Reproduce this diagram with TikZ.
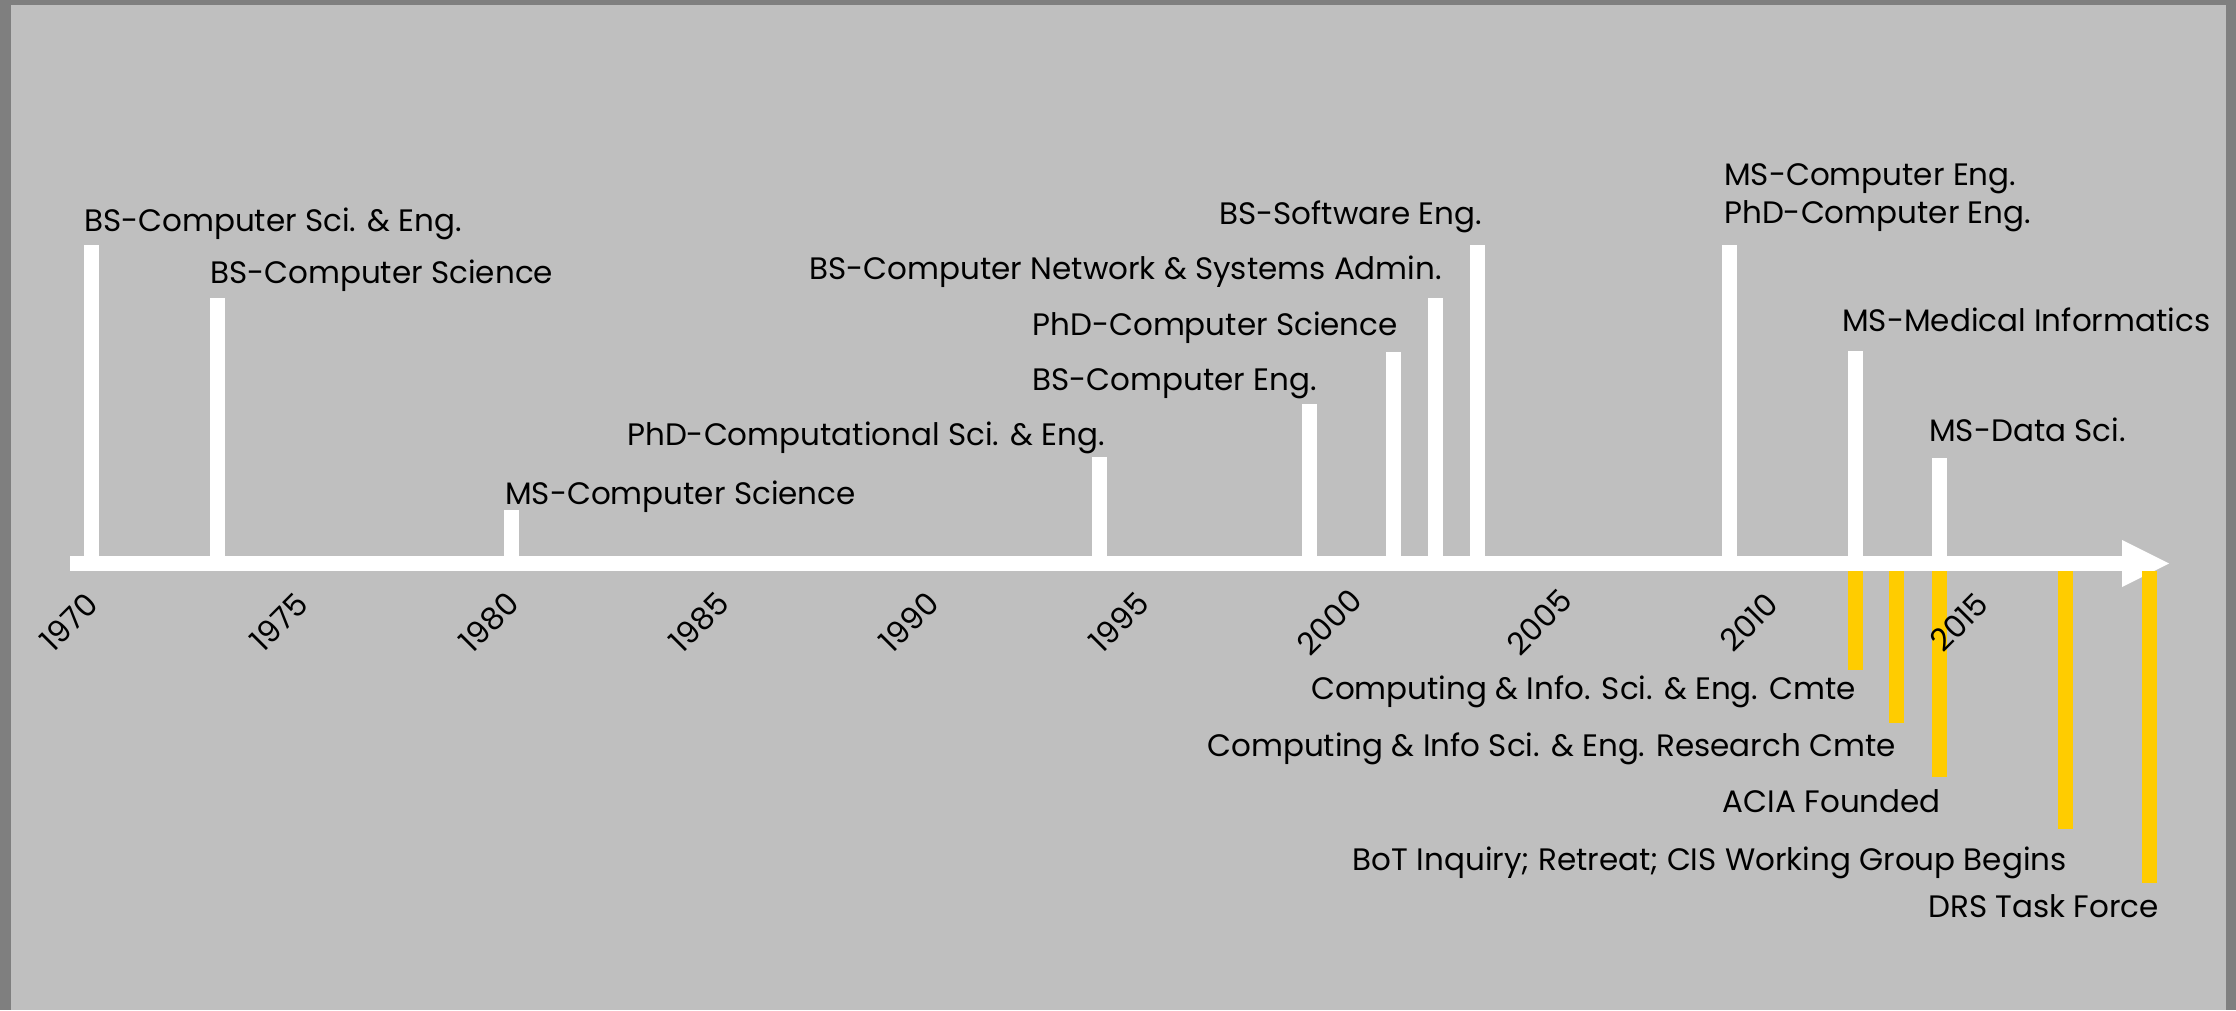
\documentclass[tikz,border=0pt]{standalone}
\usepackage{fontspec}
\setmainfont{Poppins}
\definecolor{framegray}{HTML}{7F7F7F}
\definecolor{bggray}{HTML}{BFBFBF}
\definecolor{gold}{HTML}{FFCC00}
\begin{document}
\begin{tikzpicture}[x=1pt,y=-1pt,
  lbl/.style={inner sep=0pt,font=\fontsize{31}{37}\selectfont,text=black},
  yearlbl/.style={lbl,rotate=45,anchor=center},
  wbar/.style={fill=white},
  ybar/.style={fill=gold}]
\useasboundingbox (0,0) rectangle (2236,1010);
\fill[framegray] (0,0) rectangle (2236,1010);
\fill[bggray] (11,5) rectangle (2226,1010);
% white bars (degrees)
\foreach \x/\t in {91/245,217/298,511/510,1099/457,1309/404,1393/352,1435/298,1477/245,1729/245,1855/351,1939/458}
  \fill[wbar] (\x-7.5,\t) rectangle (\x+7.5,563);
% axis with arrow
\coordinate (axs) at (70,563.5);
\coordinate (axe) at (2122,563.5);
\coordinate (tip) at (2169,563.5);
\fill[white] (70,556) rectangle (2122,571);
\fill[white] (2122,540) -- (tip) -- (2122,587) -- cycle;
% yellow bars (milestones)
\foreach \x/\b in {1855/670,1896.5/723,1939.5/777,2065.5/829,2149.5/883}
  \fill[ybar] (\x-7.5,571) rectangle (\x+7.5,\b);
% year labels
\foreach \x/\y in {91/1970,301/1975,511/1980,721/1985,931/1990,1141/1995,1351/2000,1561/2005,1771/2010,1981/2015}
  \node[yearlbl] (y\y) at (\x-22,622) {\y};
% degree labels
\node[lbl,anchor=base west] (d1) at (84,231) {BS-Computer Sci. \& Eng.};
\node[lbl,anchor=base west] (d2) at (210,283) {BS-Computer Science};
\node[lbl,anchor=base west] (d3) at (505,504) {MS-Computer Science};
\node[lbl,anchor=base east] (d4) at (1105,445) {PhD-Computational Sci. \& Eng.};
\node[lbl,anchor=base east] (d5) at (1317,390) {BS-Computer Eng.};
\node[lbl,anchor=base east] (d6) at (1398,335) {PhD-Computer Science};
\node[lbl,anchor=base east] (d7) at (1442,279) {BS-Computer Network \& Systems Admin.};
\node[lbl,anchor=base east] (d8) at (1482,224) {BS-Software Eng.};
\node[lbl,anchor=base west] (d9) at (1724,185) {MS-Computer Eng.};
\node[lbl,anchor=base west] (d10) at (1724,223) {PhD-Computer Eng.};
\node[lbl,anchor=base west] (d11) at (1842,331) {MS-Medical Informatics};
\node[lbl,anchor=base west] (d12) at (1929,441) {MS-Data Sci.};
% milestone labels
\node[lbl,anchor=base east] (m1) at (1856,699) {Computing \& Info. Sci. \& Eng. Cmte};
\node[lbl,anchor=base east] (m2) at (1896,756) {Computing \& Info Sci. \& Eng. Research Cmte};
\node[lbl,anchor=base east] (m3) at (1941,812) {ACIA Founded};
\node[lbl,anchor=base east] (m4) at (2067,870) {BoT Inquiry; Retreat; CIS Working Group Begins};
\node[lbl,anchor=base east] (m5) at (2159,917) {DRS Task Force};
\end{tikzpicture}
\end{document}
